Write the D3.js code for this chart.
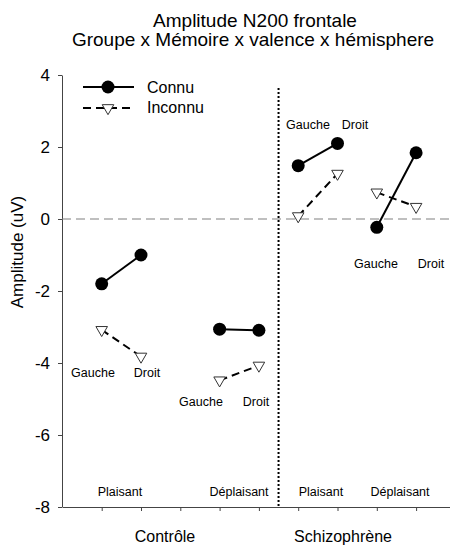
<!DOCTYPE html>
<html>
<head>
<meta charset="utf-8">
<title>Amplitude N200 frontale</title>
<style>
  body { margin: 0; background: #fff; }
  text { font-family: "Liberation Sans", Arial, sans-serif; fill: #000; }
</style>
</head>
<body>
<svg id="chart" width="450" height="545"></svg>
<script src="https://d3js.org/d3.v7.min.js"></script>
<script>
// data
const groups = ["Contrôle", "Schizophrène"]
const valences = ["Plaisant", "Déplaisant", "Plaisant", "Déplaisant"]
const hemispheres = ["Gauche", "Droit"]
const slots = [[1, 2], [4, 5], [6, 7], [8, 9]]   // x category slots
const connu = [[-1.80, -1.00], [-3.06, -3.09], [1.48, 2.10], [-0.23, 1.84]]
const inconnu = [[-3.08, -3.82], [-4.48, -4.07], [0.08, 1.26], [0.74, 0.34]]
const yTicks = [-8, -6, -4, -2, 0, 2, 4]

let svg = d3.select("#chart")

let x = d3.scaleLinear().domain([0, 10]).range([62.4, 455.4])
let y = d3.scaleLinear().domain([-8, 4]).range([507, 75])

// title
svg.append("text").attr("x", 255).attr("y", 27).attr("text-anchor", "middle")
    .style("font-size", "19px").text("Amplitude N200 frontale")
svg.append("text").attr("x", 253).attr("y", 46).attr("text-anchor", "middle")
    .style("font-size", "19px").text("Groupe x Mémoire x valence x hémisphere")

// axes
let yAxis = svg.append("g").attr("transform", "translate(62,0)")
    .call(d3.axisLeft(y).tickValues(yTicks).tickFormat(d => String(d))
        .tickSize(4).tickSizeOuter(0).tickPadding(8))
yAxis.selectAll("text").style("font-size", "17px").style("font-family", "Liberation Sans, Arial")
let xAxis = svg.append("g").attr("transform", "translate(0,507)")
    .call(d3.axisBottom(x).tickValues(d3.range(1, 10)).tickFormat("").tickSize(4).tickSizeOuter(0))
svg.selectAll(".domain, .tick line").attr("stroke", "#444")

svg.append("text").attr("transform", "translate(23,252) rotate(-90)")
    .attr("text-anchor", "middle").style("font-size", "17px").text("Amplitude (uV)")

// zero line and group separator
svg.append("line").attr("x1", 62).attr("x2", 450).attr("y1", y(0)).attr("y2", y(0))
    .attr("stroke", "#808080").attr("stroke-width", 1.2).attr("stroke-dasharray", "9,5")
svg.append("line").attr("x1", x(5.5)).attr("x2", x(5.5)).attr("y1", 88).attr("y2", y(-8))
    .attr("stroke", "#000").attr("stroke-width", 2).attr("stroke-dasharray", "2,2")

// group + valence labels
svg.selectAll(".grp").data(groups).enter().append("text")
    .attr("x", (d, i) => i == 0 ? 165 : 343).attr("y", 542)
    .attr("text-anchor", "middle").style("font-size", "16px").text(d => d)
svg.selectAll(".val").data(valences).enter().append("text")
    .attr("x", (d, i) => [120, 239, 321, 400][i]).attr("y", 496)
    .attr("text-anchor", "middle").style("font-size", "12.5px").text(d => d)

// hemisphere labels (pixel placement per condition)
let hemiLabel = [
    { gx: 93, dx: 147, y: 377 },
    { gx: 201, dx: 256, y: 406 },
    { gx: 308, dx: 355, y: 129 },
    { gx: 376, dx: 431, y: 268 }
]
hemiLabel.forEach(p => {
    svg.append("text").attr("x", p.gx).attr("y", p.y).attr("text-anchor", "middle")
        .style("font-size", "12.5px").text(hemispheres[0])
    svg.append("text").attr("x", p.dx).attr("y", p.y).attr("text-anchor", "middle")
        .style("font-size", "12.5px").text(hemispheres[1])
})

let tri = d3.symbol().type(d3.symbolTriangle).size(58)

// inconnu series
slots.forEach((s, i) => {
    svg.append("line").attr("x1", x(s[0])).attr("y1", y(inconnu[i][0]))
        .attr("x2", x(s[1])).attr("y2", y(inconnu[i][1]))
        .attr("stroke", "#000").attr("stroke-width", 2).attr("stroke-dasharray", "8,5")
    s.forEach((xv, j) => {
        svg.append("path").attr("d", tri)
            .attr("transform", `translate(${x(xv)},${y(inconnu[i][j])}) rotate(180)`)
            .attr("fill", "#fff").attr("stroke", "#333").attr("stroke-width", 1)
    })
})

// connu series
slots.forEach((s, i) => {
    svg.append("line").attr("x1", x(s[0])).attr("y1", y(connu[i][0]))
        .attr("x2", x(s[1])).attr("y2", y(connu[i][1]))
        .attr("stroke", "#000").attr("stroke-width", 2)
    s.forEach((xv, j) => {
        svg.append("circle").attr("cx", x(xv)).attr("cy", y(connu[i][j])).attr("r", 6.5)
            .attr("fill", "#000")
    })
})

// legend
let legend = svg.append("g")
legend.append("line").attr("x1", 83).attr("x2", 134).attr("y1", 87).attr("y2", 87)
    .attr("stroke", "#000").attr("stroke-width", 2)
legend.append("circle").attr("cx", 108).attr("cy", 87).attr("r", 6.5).attr("fill", "#000")
legend.append("line").attr("x1", 83).attr("x2", 134).attr("y1", 108).attr("y2", 108)
    .attr("stroke", "#000").attr("stroke-width", 2).attr("stroke-dasharray", "8,5")
legend.append("path").attr("d", tri).attr("transform", "translate(108,108) rotate(180)")
    .attr("fill", "#fff").attr("stroke", "#333").attr("stroke-width", 1)
legend.append("text").attr("x", 147).attr("y", 93).style("font-size", "16px").text("Connu")
legend.append("text").attr("x", 147).attr("y", 113).style("font-size", "16px").text("Inconnu")
</script>
</body>
</html>
